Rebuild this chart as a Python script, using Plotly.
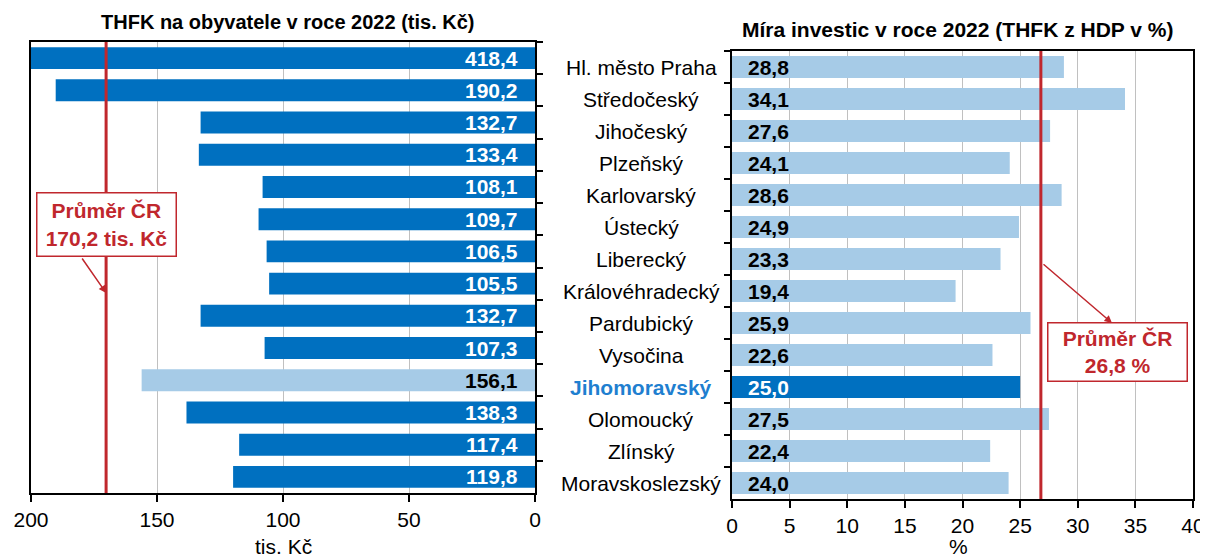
import plotly.graph_objects as go

# ---------------- data ----------------
regions = ["Hl. město Praha", "Středočeský", "Jihočeský", "Plzeňský", "Karlovarský",
           "Ústecký", "Liberecký", "Královéhradecký", "Pardubický", "Vysočina",
           "Jihomoravský", "Olomoucký", "Zlínský", "Moravskoslezský"]
thfk_per_capita = [418.4, 190.2, 132.7, 133.4, 108.1, 109.7, 106.5, 105.5, 132.7, 107.3,
                   156.1, 138.3, 117.4, 119.8]
invest_rate = [28.8, 34.1, 27.6, 24.1, 28.6, 24.9, 23.3, 19.4, 25.9, 22.6,
               25.0, 27.5, 22.4, 24.0]
highlight = "Jihomoravský"
avg_per_capita = 170.2
avg_rate = 26.8
left_ticks = [0, 50, 100, 150, 200]
right_ticks = [0, 5, 10, 15, 20, 25, 30, 35, 40]
title_left = "THFK na obyvatele v roce 2022 (tis. Kč)"
title_right = "Míra investic v roce 2022 (THFK z HDP v %)"
xtitle_left = "tis. Kč"
xtitle_right = "%"

# ---------------- styles ----------------
DARK = "#0070C0"
LIGHT = "#A6CBE7"
RED = "#C0272D"
HL_TEXT = "#1F7FD0"
FONT = "Liberation Sans, Arial, sans-serif"
OFF = 8               # default body margin of the html page
W, H = 1208 - OFF, 557 - OFF


def fmt(v):
    return f"{v:.1f}".replace(".", ",")


def px(x):
    return (x - OFF) / W


def py(y):
    return 1 - (y - OFF) / H


left_colors = [LIGHT if r == highlight else DARK for r in regions]
right_colors = [DARK if r == highlight else LIGHT for r in regions]

fig = go.Figure()
fig.add_trace(go.Bar(y=regions, x=thfk_per_capita, orientation="h",
                     marker=dict(color=left_colors, line=dict(width=0)),
                     xaxis="x", yaxis="y", hoverinfo="skip", showlegend=False))
fig.add_trace(go.Bar(y=regions, x=invest_rate, orientation="h",
                     marker=dict(color=right_colors, line=dict(width=0)),
                     xaxis="x2", yaxis="y2", hoverinfo="skip", showlegend=False))

axis_common = dict(showline=True, linecolor="black", linewidth=1.5, mirror=True,
                   automargin=False)

fig.update_layout(
    width=W, height=H,
    margin=dict(l=0, r=0, t=0, b=0, autoexpand=False),
    paper_bgcolor="white", plot_bgcolor="white",
    bargap=0.32,
    font=dict(family=FONT, size=21, color="black"),
    xaxis=dict(domain=[px(31), px(535)], anchor="y", range=[200, 0],
               tickvals=left_ticks, ticktext=[str(t) for t in left_ticks],
               ticks="outside", ticklen=7, tickwidth=1.5, tickcolor="black",
               showgrid=True, gridcolor="#C0C0C0", gridwidth=1, zeroline=False,
               tickfont=dict(size=21), ticklabeloverflow="allow", **axis_common),
    yaxis=dict(domain=[py(493), py(42)], anchor="x", side="right",
               categoryorder="array", categoryarray=regions, autorange="reversed",
               showticklabels=False, ticks="outside", tickson="boundaries",
               ticklen=6, tickwidth=1.5, tickcolor="black", showgrid=False,
               **axis_common),
    xaxis2=dict(domain=[px(732), px(1193)], anchor="y2", range=[0, 40],
                tickvals=right_ticks, ticktext=[str(t) for t in right_ticks],
                ticks="outside", ticklen=7, tickwidth=1.5, tickcolor="black",
                showgrid=True, gridcolor="#C0C0C0", gridwidth=1, zeroline=False,
                tickfont=dict(size=21), ticklabeloverflow="allow", **axis_common),
    yaxis2=dict(domain=[py(499), py(51)], anchor="x2", side="left",
                categoryorder="array", categoryarray=regions, autorange="reversed",
                showticklabels=False, ticks="outside", tickson="boundaries",
                ticklen=6, tickwidth=1.5, tickcolor="black", showgrid=False,
                **axis_common),
)

# average lines
fig.add_shape(type="line", xref="x", yref="y domain", x0=avg_per_capita, x1=avg_per_capita,
              y0=0, y1=1, line=dict(color=RED, width=3), layer="above")
fig.add_shape(type="line", xref="x2", yref="y2 domain", x0=avg_rate, x1=avg_rate,
              y0=0, y1=1, line=dict(color=RED, width=3), layer="above")

ann = []
# category labels (centred between the two panels)
for r in regions:
    txt = f"<b>{r}</b>" if r == highlight else r
    ann.append(dict(x=px(641), y=r, xref="paper", yref="y2", text=txt, showarrow=False,
                    xanchor="center", yanchor="middle",
                    font=dict(size=21, color=HL_TEXT if r == highlight else "black")))
# value labels
for r, v, c in zip(regions, thfk_per_capita, left_colors):
    ann.append(dict(x=0, y=r, xref="x", yref="y", text=f"<b>{fmt(v)}</b>", showarrow=False,
                    xanchor="right", yanchor="middle", xshift=-15,
                    font=dict(size=21, color="black" if c == LIGHT else "white")))
for r, v, c in zip(regions, invest_rate, right_colors):
    ann.append(dict(x=0, y=r, xref="x2", yref="y2", text=f"<b>{fmt(v)}</b>", showarrow=False,
                    xanchor="left", yanchor="middle", xshift=14,
                    font=dict(size=21, color="black" if c == LIGHT else "white")))

# titles
ann.append(dict(x=px(287), y=py(22), xref="paper", yref="paper", text=f"<b>{title_left}</b>",
                showarrow=False, xanchor="center", yanchor="middle", font=dict(size=20)))
ann.append(dict(x=px(957), y=py(30), xref="paper", yref="paper", text=f"<b>{title_right}</b>",
                showarrow=False, xanchor="center", yanchor="middle", font=dict(size=21)))
ann.append(dict(x=px(283), y=py(546), xref="paper", yref="paper", text=xtitle_left,
                showarrow=False, xanchor="center", yanchor="middle", font=dict(size=21)))
ann.append(dict(x=px(958), y=py(546), xref="paper", yref="paper", text=xtitle_right,
                showarrow=False, xanchor="center", yanchor="middle", font=dict(size=21)))

# average boxes
ann.append(dict(x=px(106), y=py(225), xref="paper", yref="paper",
                text=f"<b>Průměr ČR<br>{fmt(avg_per_capita)} tis. Kč</b>",
                showarrow=False, xanchor="center", yanchor="middle",
                width=134, height=58, bgcolor="white", bordercolor=RED, borderwidth=1.5,
                borderpad=2, font=dict(size=21, color=RED)))
ann.append(dict(x=avg_per_capita, y=py(293), xref="x", yref="paper", text="",
                showarrow=True, ax=-25, ay=-36, axref="pixel", ayref="pixel",
                arrowcolor=RED, arrowwidth=1.5, arrowhead=2, arrowsize=1))
ann.append(dict(x=px(1117), y=py(352), xref="paper", yref="paper",
                text=f"<b>Průměr ČR<br>{fmt(avg_rate)} %</b>",
                showarrow=False, xanchor="center", yanchor="middle",
                width=134, height=53, bgcolor="white", bordercolor=RED, borderwidth=1.5,
                borderpad=2, font=dict(size=21, color=RED)))
ann.append(dict(x=px(1112), y=py(323), xref="paper", yref="paper", text="",
                showarrow=True, ax=-70, ay=-60, axref="pixel", ayref="pixel",
                arrowcolor=RED, arrowwidth=1.5, arrowhead=2, arrowsize=1))

fig.update_layout(annotations=ann)
fig.write_html("out.html")
